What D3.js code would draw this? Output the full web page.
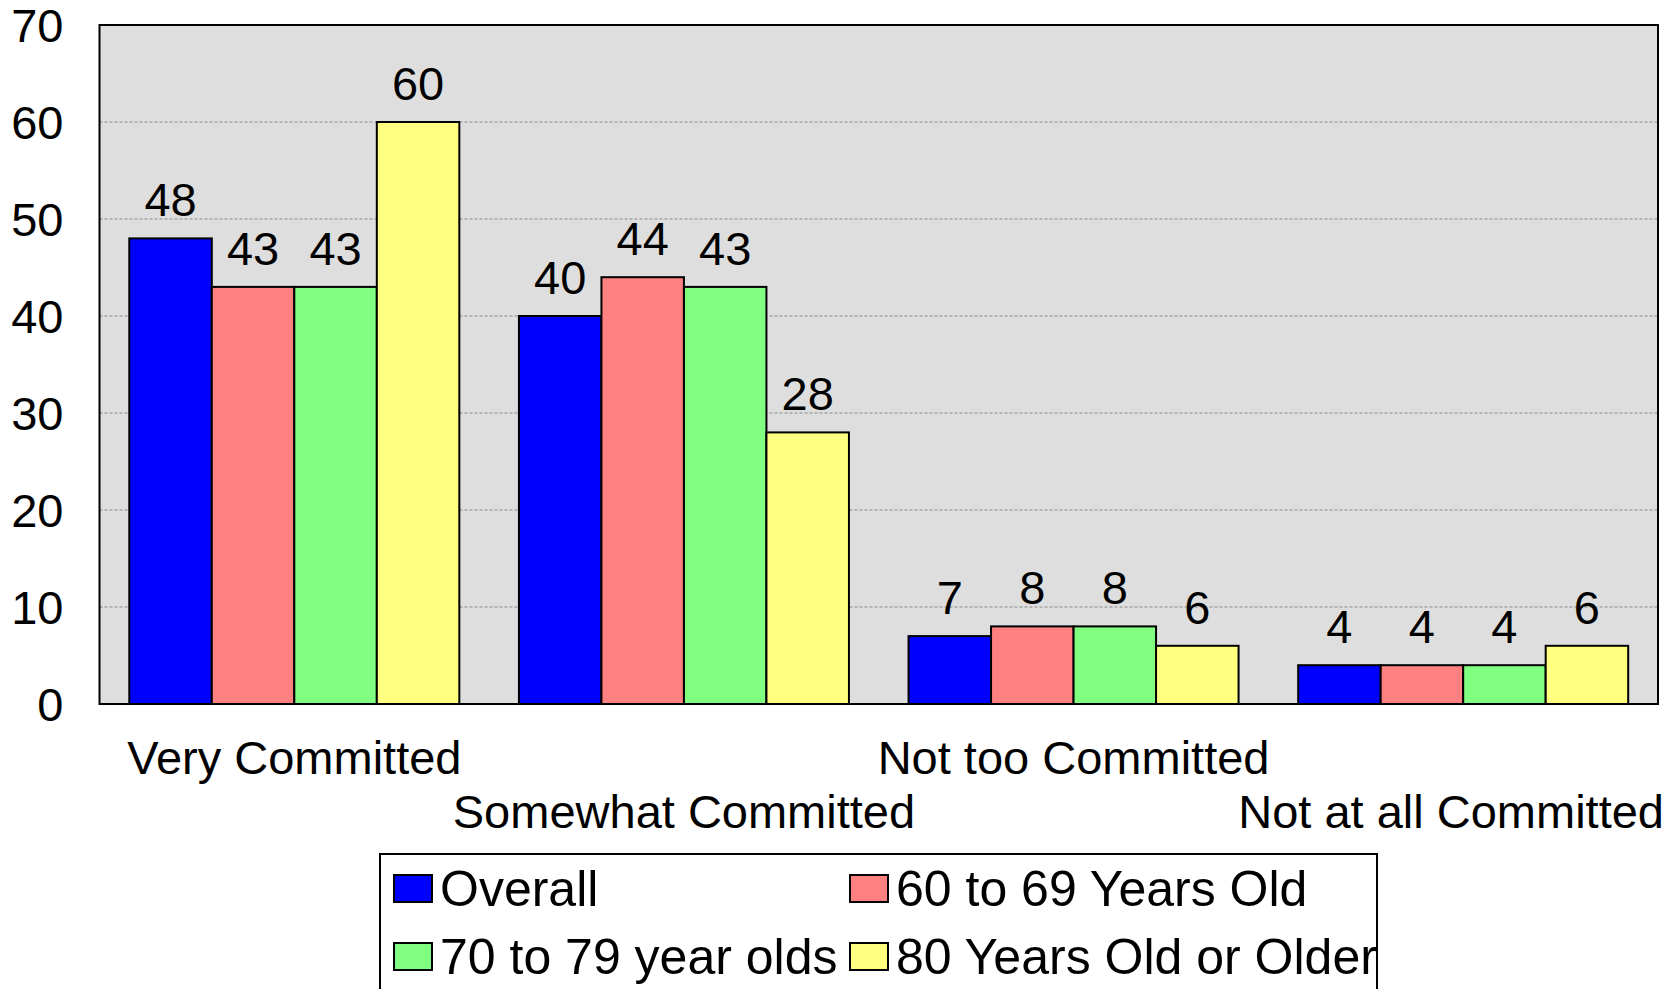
<!DOCTYPE html>
<html>
<head>
<meta charset="utf-8">
<script src="https://cdn.jsdelivr.net/npm/d3@7"></script>
<style>
  body { margin: 0; background: #fff; }
  text { font-family: "Liberation Sans", Arial, sans-serif; fill: #000; }
</style>
</head>
<body>
<div id="chart"></div>
<script>
const categories = ["Very Committed", "Somewhat Committed", "Not too Committed", "Not at all Committed"];
const seriesNames = ["Overall", "60 to 69 Years Old", "70 to 79 year olds", "80 Years Old or Older"];
const overall = [48, 40, 7, 4];
const age60s = [43, 44, 8, 4];
const age70s = [43, 43, 8, 4];
const age80plus = [60, 28, 6, 6];
const yTicks = [0, 10, 20, 30, 40, 50, 60, 70];
const colors = ["#0000ff", "#ff8080", "#80ff80", "#ffff80"];

const seriesValues = [overall, age60s, age70s, age80plus];

const W = 1680, H = 989;
const margin = { top: 25, right: 22, bottom: 285, left: 99.5 },
      width = W - margin.left - margin.right,
      height = H - margin.top - margin.bottom;

const root = d3.select("#chart").append("svg")
    .attr("width", W)
    .attr("height", H);

const svg = root.append("g")
    .attr("transform", `translate(${margin.left},${margin.top})`);

const x0 = d3.scaleBand()
    .domain(categories)
    .range([0, width])
    .paddingInner(0.153)
    .paddingOuter(0.0765);

const x1 = d3.scaleBand()
    .domain(seriesNames)
    .range([0, x0.bandwidth()]);

const y = d3.scaleLinear()
    .domain([0, 70])
    .range([height, 0]);

// plot background
svg.append("rect")
    .attr("width", width)
    .attr("height", height)
    .attr("fill", "#dedede");

// dashed gridlines
svg.append("g")
    .selectAll("line")
    .data(yTicks.filter(d => d > 0 && d < 70))
    .join("line")
    .attr("x1", 0)
    .attr("x2", width)
    .attr("y1", d => y(d))
    .attr("y2", d => y(d))
    .attr("stroke", "#888")
    .attr("stroke-width", 1)
    .attr("stroke-dasharray", "3,2");

// y axis labels
const yAxis = svg.append("g")
    .call(d3.axisLeft(y).tickValues(yTicks).tickSize(0).tickPadding(36));
yAxis.select(".domain").remove();
yAxis.selectAll("text")
    .style("font-size", "47px")
    .style("font-family", "'Liberation Sans', Arial, sans-serif")
    .attr("dy", "0.36em");

const rows = categories.map((c, i) => ({
    category: c,
    values: seriesNames.map((s, j) => ({ series: s, value: seriesValues[j][i], color: colors[j] }))
}));

const groups = svg.selectAll(".group")
    .data(rows)
    .join("g")
    .attr("class", "group")
    .attr("transform", d => `translate(${x0(d.category)},0)`);

groups.selectAll("rect")
    .data(d => d.values)
    .join("rect")
    .attr("x", d => x1(d.series))
    .attr("y", d => y(d.value))
    .attr("width", x1.bandwidth())
    .attr("height", d => height - y(d.value))
    .attr("fill", d => d.color)
    .attr("stroke", "#000")
    .attr("stroke-width", 2);

groups.selectAll(".label")
    .data(d => d.values)
    .join("text")
    .attr("class", "label")
    .attr("x", d => x1(d.series) + x1.bandwidth() / 2)
    .attr("y", d => y(d.value) - 22)
    .attr("text-anchor", "middle")
    .style("font-size", "47px")
    .text(d => d.value);

// frame
svg.append("rect")
    .attr("width", width)
    .attr("height", height)
    .attr("fill", "none")
    .attr("stroke", "#000")
    .attr("stroke-width", 2);

// category labels, staggered; keep last one inside the page
svg.append("g")
    .selectAll("text")
    .data(categories)
    .join("text")
    .attr("y", (d, i) => height + (i % 2 === 0 ? 70 : 124))
    .attr("text-anchor", "middle")
    .style("font-size", "47px")
    .text(d => d)
    .attr("x", function(d) {
        const cx = x0(d) + x0.bandwidth() / 2;
        const half = this.getComputedTextLength() / 2;
        const maxRight = W - 16 - margin.left;
        return Math.min(cx, maxRight - half);
    });

// legend
const legend = root.append("g")
    .attr("transform", "translate(380,854)");

legend.append("rect")
    .attr("width", 997)
    .attr("height", 200)
    .attr("fill", "#fff")
    .attr("stroke", "#000")
    .attr("stroke-width", 2);

const legendItems = legend.selectAll(".item")
    .data(seriesNames)
    .join("g")
    .attr("class", "item")
    .attr("transform", (d, i) => `translate(${i % 2 === 0 ? 14 : 470},${i < 2 ? 21 : 89})`);

legendItems.append("rect")
    .attr("width", 38)
    .attr("height", 27)
    .attr("fill", (d, i) => colors[i])
    .attr("stroke", "#000")
    .attr("stroke-width", 2);

legendItems.append("text")
    .attr("x", 46)
    .attr("y", 31)
    .style("font-size", "50px")
    .text(d => d);
</script>
</body>
</html>
